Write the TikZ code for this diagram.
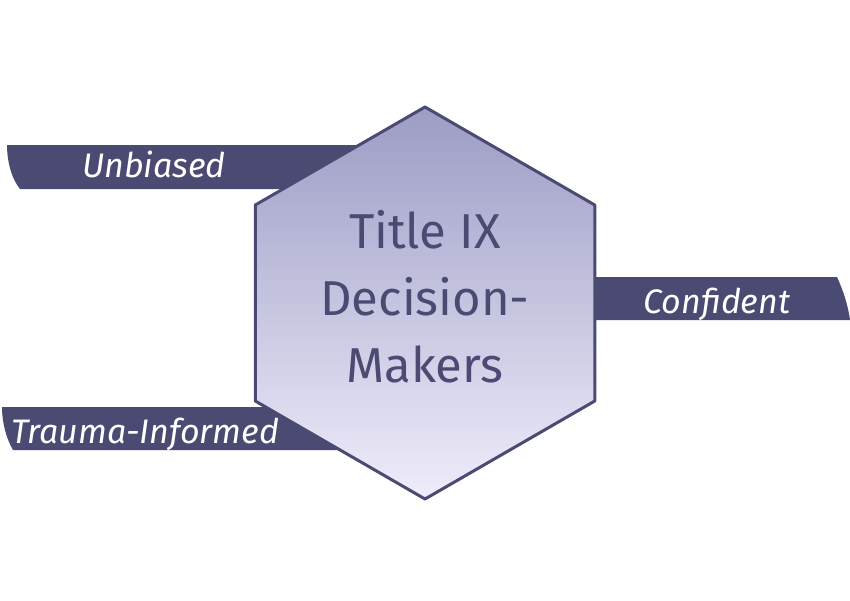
\documentclass[tikz,border=0pt]{standalone}
\usepackage{fontspec}
\setmainfont{Fira Sans}
\usetikzlibrary{shapes.geometric}
\definecolor{bannerblue}{RGB}{74,74,115}
\definecolor{hextop}{RGB}{156,156,197}
\definecolor{hexbottom}{RGB}{239,237,251}

\begin{document}
\begin{tikzpicture}[line cap=round,line join=round,x=1pt,y=-1pt,
  banner/.style={fill=bannerblue},
  bannertext/.style={text=white,anchor=base,inner sep=0pt,font=\fontsize{34}{40}\selectfont\itshape}]
\useasboundingbox (0,0) rectangle (850,600);
% banners behind the hexagon
\fill [banner] (7,145) -- (425,145) -- (425,189) -- (20,189) .. controls (11,178) and (7,160) .. cycle;
\fill [banner] (2,407) -- (400,407) -- (400,450) -- (13,450) .. controls (6,438) and (2,422) .. cycle;
\fill [banner] (500,277) -- (837,277) .. controls (843,290) and (848,305) .. (850,320) -- (500,320) -- cycle;
\node [bannertext] (unbiased) at (154,177) {Unbiased};
\node [bannertext] (trauma) at (145,443) {Trauma-Informed};
\node [bannertext] (confident) at (717,313) {Confident};
% centre hexagon
\node [regular polygon,regular polygon sides=6,shape border rotate=30,minimum size=392pt,inner sep=0pt,
  draw=bannerblue,line width=3pt,top color=hextop,bottom color=hexbottom] (hex) at (425,303) {};
\node [text=bannerblue,align=center,font=\fontsize{49}{67}\selectfont] (title) at (425,297) {Title IX\\Decision-\\Makers};
\end{tikzpicture}
\end{document}
